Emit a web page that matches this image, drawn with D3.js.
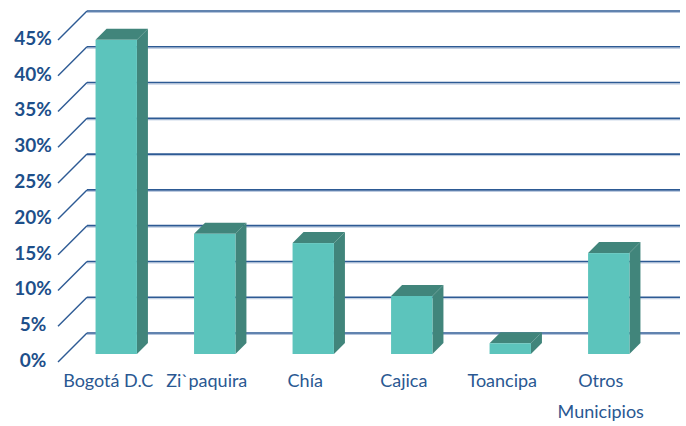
<!DOCTYPE html>
<html>
<head>
<meta charset="utf-8">
<script src="https://cdn.jsdelivr.net/npm/d3@7"></script>
<style>
  body { margin: 0; background: #fff; }
  svg { display: block; }
</style>
</head>
<body>
<svg width="686" height="426"></svg>
<script>
//data
const categories = ['Bogotá D.C', 'Zi`paquira', 'Chía', 'Cajica', 'Toancipa', 'Otros Municipios'];
const values = [43.9, 16.8, 15.5, 8.1, 1.5, 14.1];
const ticks = [0, 5, 10, 15, 20, 25, 30, 35, 40, 45];

//set up
const svg = d3.select('svg');
const wallDepth = 29;   // depth of the floor / side wall
const barDepth = 11;    // depth of each bar
const barOffset = 8;    // bar front face sits this far behind front plane

const y = d3.scaleLinear().domain([0, 45]).range([362, 40]);
const x = d3.scaleBand().domain(categories).range([58, 651]).paddingInner(0.58).paddingOuter(0.3);

const front = '#5cc4bc';
const dark = '#41857b';
const gridBlue = '#2d5a94';

//gridlines: back wall + diagonal on the side wall
const grid = svg.append('g');
ticks.forEach(t => {
  const yf = y(t), yb = y(t) - wallDepth;
  grid.append('line')
    .attr('x1', 87).attr('x2', 680)
    .attr('y1', yb + 1.5).attr('y2', yb + 1.5)
    .attr('stroke', '#b4c4dc').attr('stroke-width', 1);
  grid.append('line')
    .attr('x1', 87).attr('x2', 680)
    .attr('y1', yb).attr('y2', yb)
    .attr('stroke', gridBlue).attr('stroke-width', 1.6);
  grid.append('line')
    .attr('x1', 58).attr('y1', yf)
    .attr('x2', 87).attr('y2', yb)
    .attr('stroke', gridBlue).attr('stroke-width', 1.4);
});

//tick labels
svg.append('g')
  .selectAll('text')
  .data(ticks)
  .join('text')
  .attr('x', 33)
  .attr('y', d => y(d) - 2)
  .attr('dy', '0.36em')
  .attr('text-anchor', 'middle')
  .style('font-family', 'Lato, "Open Sans", sans-serif')
  .style('font-weight', 700)
  .style('font-size', '19px')
  .style('fill', '#1d4f8a')
  .text(d => d + '%');

//bars
const bars = svg.append('g')
  .selectAll('g')
  .data(values.map((v, i) => ({ cat: categories[i], v })))
  .join('g');

bars.each(function (d) {
  const g = d3.select(this);
  const x0 = x(d.cat) + barOffset;
  const w = x.bandwidth();
  const top = y(d.v) - barOffset;
  const bottom = y(0) - barOffset;
  // side face
  g.append('path')
    .attr('d', `M${x0 + w},${top} L${x0 + w + barDepth},${top - barDepth} L${x0 + w + barDepth},${bottom - barDepth} L${x0 + w},${bottom} Z`)
    .attr('fill', dark);
  // top face
  g.append('path')
    .attr('d', `M${x0},${top} L${x0 + barDepth},${top - barDepth} L${x0 + w + barDepth},${top - barDepth} L${x0 + w},${top} Z`)
    .attr('fill', dark);
  // front face
  g.append('rect')
    .attr('x', x0).attr('y', top)
    .attr('width', w).attr('height', bottom - top)
    .attr('fill', front);
});

//category labels
const labels = svg.append('g')
  .selectAll('text')
  .data(categories)
  .join('text')
  .attr('x', d => x(d) + x.bandwidth() / 2)
  .attr('y', 387)
  .attr('text-anchor', 'middle')
  .style('font-family', 'Lato, "Open Sans", sans-serif')
  .style('font-size', '18px')
  .style('fill', '#2a5892');

labels.each(function (d) {
  const t = d3.select(this);
  const words = d === 'Otros Municipios' ? ['Otros', 'Municipios'] : [d];
  words.forEach((w, i) => {
    t.append('tspan')
      .attr('x', t.attr('x'))
      .attr('dy', i === 0 ? 0 : 31)
      .text(w);
  });
});
</script>
</body>
</html>
